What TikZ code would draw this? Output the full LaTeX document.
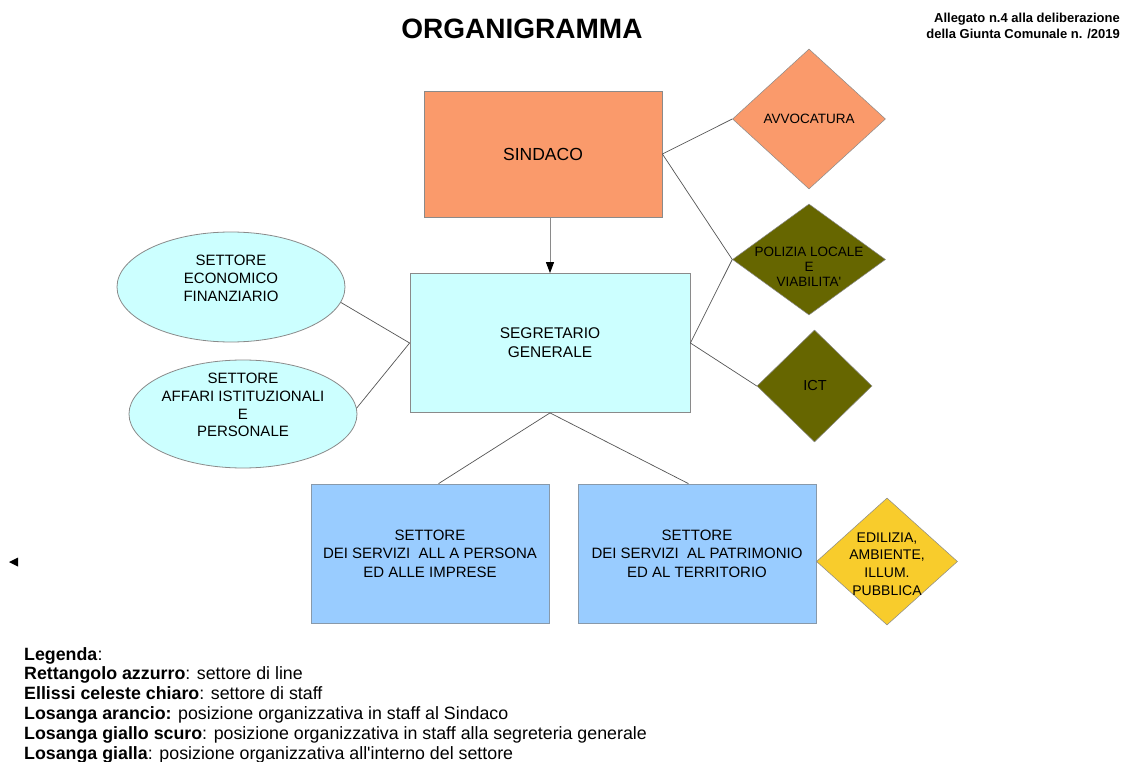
\documentclass[tikz,border=0pt]{standalone}
\usepackage{fontspec}
\setmainfont{Liberation Sans}[Ligatures=TeXOff]
\usetikzlibrary{shapes.geometric,arrows.meta}
\definecolor{orangeF}{HTML}{FA9A6B}
\definecolor{olive}{HTML}{666600}
\definecolor{cyanL}{HTML}{CCFFFF}
\definecolor{blueR}{HTML}{99CCFF}
\definecolor{yellowD}{HTML}{F8CC2C}
\definecolor{edgeG}{HTML}{8A8A8A}
\definecolor{edgeB}{HTML}{8899AA}
\definecolor{lineG}{HTML}{555555}
\tikzset{
  box/.style={rectangle, draw=edgeG, line width=0.8pt, inner sep=0pt, align=center},
  ell/.style={ellipse, draw=edgeG, line width=0.8pt, fill=cyanL, inner sep=0pt},
  dia/.style={diamond, draw=edgeG, line width=0.5pt, inner sep=0pt},
  conn/.style={draw=lineG, line width=0.7pt},
  lab/.style={align=center, inner sep=0pt},
  leg/.style={anchor=base west, inner sep=0pt, font=\fontsize{17.8}{20}\selectfont}
}
\begin{document}
\begin{tikzpicture}[x=1pt,y=-1pt]
\useasboundingbox (0,0) rectangle (1128,762);
\fill[white] (0,0) rectangle (1128,762);
% title
\node[inner sep=0pt, font=\fontsize{28}{32}\selectfont\bfseries] (title) at (522,29) {ORGANIGRAMMA};
\node[anchor=north east, align=right, inner sep=0pt, font=\fontsize{13}{16}\selectfont\bfseries] (alleg) at (1120,12.5) {Allegato n.4 alla deliberazione\\della Giunta Comunale n. /2019};
% main boxes
\node[box, fill=orangeF, minimum width=238pt, minimum height=126pt, font=\fontsize{17.5}{21}\selectfont] (sind) at (543,154) {SINDACO};
\node[box, fill=cyanL, minimum width=280pt, minimum height=139pt, font=\fontsize{15.5}{19}\selectfont] (seg) at (550,343) {SEGRETARIO\\GENERALE};
\node[box, draw=edgeB, fill=blueR, minimum width=238pt, minimum height=139pt, font=\fontsize{15}{18.5}\selectfont] (r1) at (430,553.5) {SETTORE\\DEI SERVIZI\ \ ALL A PERSONA\\ED ALLE IMPRESE};
\node[box, draw=edgeB, fill=blueR, minimum width=238pt, minimum height=139pt, font=\fontsize{15}{18.5}\selectfont] (r2) at (697,553.5) {SETTORE\\DEI SERVIZI\ \ AL PATRIMONIO\\ED AL TERRITORIO};
% ellipses
\node[ell, minimum width=228pt, minimum height=110pt] (e1) at (231,287) {};
\node[lab, font=\fontsize{15}{18}\selectfont] (e1t) at (231,278.5) {SETTORE\\ECONOMICO\\FINANZIARIO};
\node[ell, minimum width=228pt, minimum height=108pt] (e2) at (243,414) {};
\node[lab, font=\fontsize{15}{17.7}\selectfont] (e2t) at (243,405) {SETTORE\\AFFARI ISTITUZIONALI\\E\\PERSONALE};
% diamonds
\node[dia, fill=orangeF, minimum width=153pt, minimum height=140pt] (avv) at (809,119) {};
\node[lab, font=\fontsize{13.5}{16}\selectfont] (avvt) at (809,119) {AVVOCATURA};
\node[dia, fill=olive, minimum width=153pt, minimum height=111pt] (pol) at (809,259.5) {};
\node[lab, font=\fontsize{13.5}{15.2}\selectfont] (polt) at (809,267) {POLIZIA LOCALE\\E\\VIABILITA'};
\node[dia, fill=olive, minimum width=115pt, minimum height=112pt] (ict) at (814.5,386) {};
\node[lab, font=\fontsize{14.5}{17}\selectfont] (ictt) at (815,386) {ICT};
\node[dia, fill=yellowD, minimum width=141pt, minimum height=127pt] (edi) at (887,561.5) {};
\node[lab, font=\fontsize{14}{17.8}\selectfont] (edit) at (887,564) {EDILIZIA,\\AMBIENTE,\\ILLUM.\\PUBBLICA};
% connectors
\draw[draw=edgeG, line width=1pt, -{Triangle[length=11pt,width=8pt,color=black,fill=black]}] (sind.south -| seg.north) -- (seg.north);
\draw[conn] (sind.east) -- (avv.west);
\draw[conn] (sind.east) -- (pol.west);
\draw[conn] (seg.east) -- (pol.west);
\draw[conn] (seg.east) -- (ict.west);
\draw[conn] (e1.-8) -- (seg.west);
\draw[conn] (e2.3) -- (seg.west);
\draw[conn] (seg.south) -- (r1.83);
\draw[conn] (seg.south) -- (r2.97);
% small marker
\fill[black] (9,562) -- (18,557.5) -- (18,566.5) -- cycle;
% legend
\node[leg] (l1) at (24,660) {\textbf{Legenda}:};
\node[leg] (l2) at (24,679.5) {\textbf{Rettangolo azzurro}: settore di line};
\node[leg] (l3) at (24,699) {\textbf{Ellissi celeste chiaro}: settore di staff};
\node[leg] (l4) at (24,719) {\textbf{Losanga arancio:} posizione organizzativa in staff al Sindaco};
\node[leg] (l5) at (24,739.5) {\textbf{Losanga giallo scuro}: posizione organizzativa in staff alla segreteria generale};
\node[leg] (l6) at (24,759) {\textbf{Losanga gialla}: posizione organizzativa all'interno del settore};
\end{tikzpicture}
\end{document}
